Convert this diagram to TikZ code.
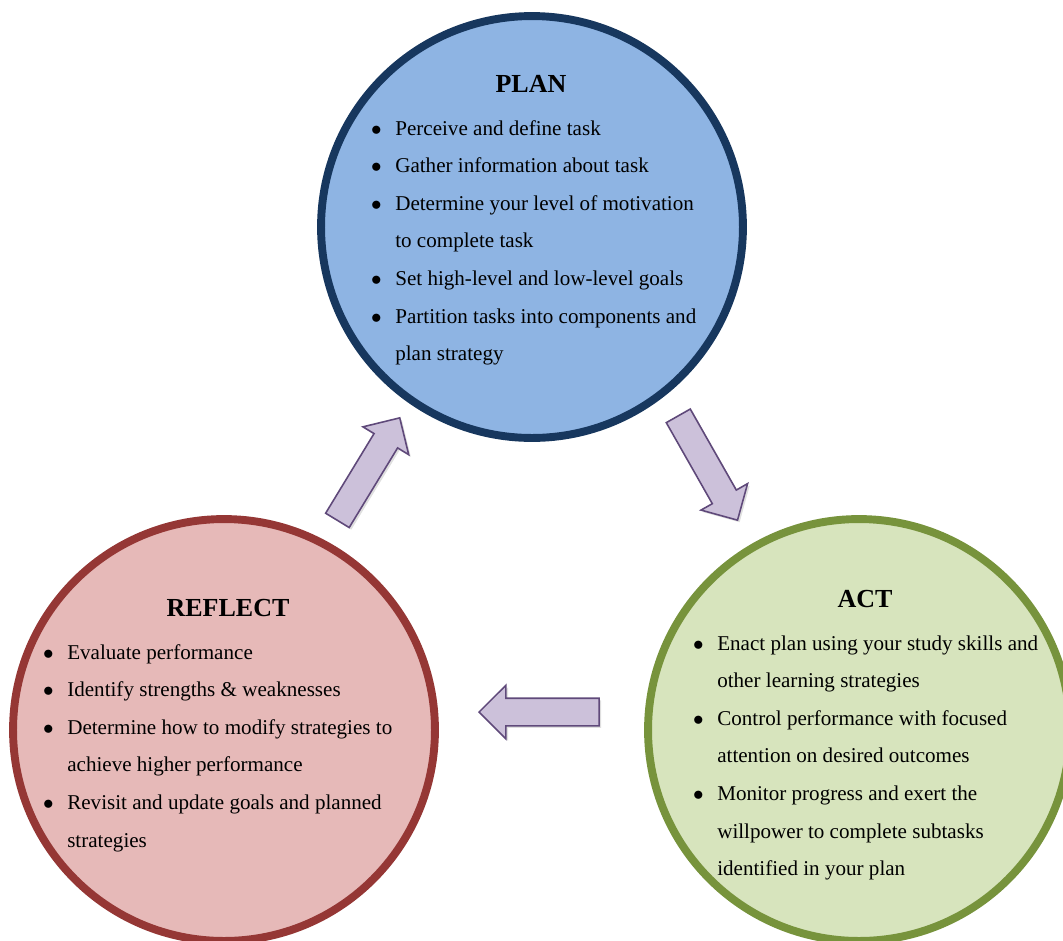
\documentclass[tikz,border=0pt]{standalone}
\usepackage{fontspec}
\setmainfont{Liberation Serif}
\usetikzlibrary{shapes.arrows,shadows}

\definecolor{planfill}{RGB}{142,180,227}
\definecolor{planline}{RGB}{23,55,94}
\definecolor{reflectfill}{RGB}{230,185,184}
\definecolor{reflectline}{RGB}{149,55,53}
\definecolor{actfill}{RGB}{215,228,189}
\definecolor{actline}{RGB}{119,147,60}
\definecolor{arrowfill}{RGB}{204,193,218}
\definecolor{arrowline}{RGB}{95,73,122}

\begin{document}
\begin{tikzpicture}[x=0.02cm, y=-0.02cm,
    phase/.style={circle, draw, line width=4.5pt, minimum size=8.44cm, inner sep=0pt},
    title/.style={anchor=base, inner sep=0pt, font=\fontsize{14.8}{18}\selectfont\bfseries},
    items/.style={anchor=base west, inner sep=0pt, font=\fontsize{12}{21.4}\selectfont},
    bigarrow/.style={single arrow, draw=arrowline, fill=arrowfill, line width=0.9pt,
      minimum height=2.4cm, single arrow head extend=0.26cm,
      inner xsep=0pt, inner ysep=0.26cm,
      drop shadow={opacity=0.25, shadow xshift=1.2pt, shadow yshift=-1.2pt}}]
  \useasboundingbox (0,0) rectangle (1063,941);

  % the three circles
  \node[phase, draw=planline, fill=planfill] (plan) at (532,227) {};
  \node[phase, draw=reflectline, fill=reflectfill] (reflect) at (224,730) {};
  \node[phase, draw=actline, fill=actfill] (act) at (859,730) {};

  % block arrows between them
  \node[bigarrow, rotate=58.7] (refltoplan) at (365,475) {};
  \node[bigarrow, rotate=-60.4] (plantoact) at (704.5,462) {};
  \node[bigarrow, rotate=180] (acttorefl) at (546,712) {};

  % titles
  \node[title] (plantitle) at (531,92) {PLAN};
  \node[title] (reflecttitle) at (228,616) {REFLECT};
  \node[title] (acttitle) at (865,607) {ACT};

  % bullet lists
  \node[items] (planlist) at (370.7,135) {\begin{tabular}[t]{@{}l@{\hspace{7.8pt}}l@{}}
    $\bullet$ & Perceive and define task\\
    $\bullet$ & Gather information about task\\
    $\bullet$ & Determine your level of motivation\\
              & to complete task\\
    $\bullet$ & Set high-level and low-level goals\\
    $\bullet$ & Partition tasks into components and\\
              & plan strategy
  \end{tabular}};
  \node[items] (reflectlist) at (42.7,659) {\begin{tabular}[t]{@{}l@{\hspace{7.8pt}}l@{}}
    $\bullet$ & Evaluate performance\\
    $\bullet$ & Identify strengths \& weaknesses\\
    $\bullet$ & Determine how to modify strategies to\\
              & achieve higher performance\\
    $\bullet$ & Revisit and update goals and planned\\
              & strategies
  \end{tabular}};
  \node[items] (actlist) at (692.7,650) {\begin{tabular}[t]{@{}l@{\hspace{7.8pt}}l@{}}
    $\bullet$ & Enact plan using your study skills and\\
              & other learning strategies\\
    $\bullet$ & Control performance with focused\\
              & attention on desired outcomes\\
    $\bullet$ & Monitor progress and exert the\\
              & willpower to complete subtasks\\
              & identified in your plan
  \end{tabular}};

\end{tikzpicture}
\end{document}
